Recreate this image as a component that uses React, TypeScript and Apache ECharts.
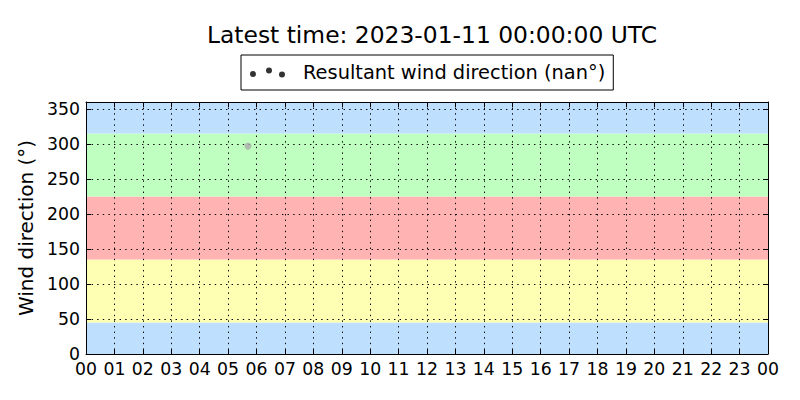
import React, { useEffect, useRef } from "react";
import * as echarts from "echarts";

const titleText = "Latest time: 2023-01-11 00:00:00 UTC";
const seriesName = "Resultant wind direction (nan°)";
const yAxisName = "Wind direction (°)";

// observation times (HH:MM, UTC) and resultant wind directions (degrees)
const obsTimes = ["05:42"];
const obsDirections = [297];

// background direction sectors
const bandStarts = [0, 45, 135, 225, 315];
const bandEnds = [45, 135, 225, 315, 360];
const bandColors = ["#bfdfff", "#ffffb3", "#ffb3b3", "#bfffbf", "#bfdfff"];

const hourMin = 0;
const hourMax = 24;
const dirMin = 0;
const dirMax = 360;
const dirStep = 50;

const FONT = "DejaVu Sans";

function toHours(t: string): number {
  const [h, m] = t.split(":").map(Number);
  return h + m / 60;
}

const legendIcon =
  "path://M0,7a3,3 0 1,0 6,0a3,3 0 1,0 -6,0Z M16,3.5a3,3 0 1,0 6,0a3,3 0 1,0 -6,0Z M29,7.3a3,3 0 1,0 6,0a3,3 0 1,0 -6,0Z";

export default function App() {
  const ref = useRef<HTMLDivElement>(null);
  useEffect(() => {
    if (!ref.current) return;
    const chart = echarts.init(ref.current, null, { renderer: "svg" });
    const gridLine = { show: true, lineStyle: { color: "#000", width: 1, type: [1.4, 4.2] as any } };
    const axisLine = { show: true, onZero: false, lineStyle: { color: "#000", width: 1 } };
    const tick = { show: true, inside: true, length: 5, lineStyle: { color: "#000" } };
    const labelStyle = { color: "#000", fontFamily: FONT, fontSize: 17.3 };
    const hourFmt = (v: number) => String(Math.round(v) % 24).padStart(2, "0");

    chart.setOption({
      animation: false,
      backgroundColor: "#fff",
      title: {
        text: titleText,
        left: 427,
        top: 18,
        textAlign: "center",
        textStyle: { fontFamily: FONT, fontSize: 23.4, fontWeight: "normal", color: "#000" },
      },
      legend: {
        data: [{ name: seriesName, icon: legendIcon, itemStyle: { color: "#000" } }],
        left: 241,
        top: 55,
        itemWidth: 35,
        itemHeight: 10.3,
        borderColor: "#000",
        borderWidth: 1,
        borderRadius: 0,
        backgroundColor: "#fff",
        padding: [8, 8, 8, 9],
        textStyle: { fontFamily: FONT, fontSize: 19.4, color: "#000", padding: [0, 0, 0, 13] },
      },
      grid: { left: 86, right: 32, top: 102, bottom: 46, containLabel: false },
      xAxis: [
        {
          type: "value",
          min: hourMin,
          max: hourMax,
          interval: 1,
          position: "bottom",
          z: 3,
          axisLine,
          axisTick: tick,
          splitLine: gridLine,
          axisLabel: { ...labelStyle, margin: 6, formatter: hourFmt },
        },
        {
          type: "value",
          min: hourMin,
          max: hourMax,
          interval: 1,
          position: "top",
          z: 3,
          axisLine,
          axisTick: tick,
          splitLine: { show: false },
          axisLabel: { show: false },
        },
      ],
      yAxis: [
        {
          type: "value",
          min: dirMin,
          max: dirMax,
          interval: dirStep,
          position: "left",
          z: 3,
          axisLine,
          axisTick: tick,
          splitLine: gridLine,
          axisLabel: {
            ...labelStyle,
            margin: 6,
            padding: [0, 0, 4, 0],
            showMaxLabel: false,
            formatter: (v: number) => (v % dirStep === 0 ? String(v) : ""),
          },
          name: yAxisName,
          nameLocation: "middle",
          nameGap: 42,
          nameTextStyle: { fontFamily: FONT, fontSize: 20, color: "#000" },
        },
        {
          type: "value",
          min: dirMin,
          max: dirMax,
          interval: dirStep,
          position: "right",
          z: 3,
          axisLine,
          axisTick: tick,
          splitLine: { show: false },
          axisLabel: { show: false },
        },
      ],
      series: [
        {
          name: "bands",
          type: "line",
          data: [],
          silent: true,
          z: 1,
          markArea: {
            silent: true,
            itemStyle: { opacity: 1 },
            data: bandStarts.map((s, i) => [
              { yAxis: s, itemStyle: { color: bandColors[i], opacity: 1 } },
              { yAxis: bandEnds[i] },
            ]),
          },
        },
        {
          name: seriesName,
          type: "scatter",
          z: 5,
          symbolSize: 7,
          itemStyle: { color: "#aaaaaa" },
          data: obsTimes.map((t, i) => [toHours(t), obsDirections[i]]),
        },
      ],
    });
    return () => chart.dispose();
  }, []);
  return <div ref={ref} style={{ width: 800, height: 400, position: "absolute", left: 0, top: 0 }} />;
}
